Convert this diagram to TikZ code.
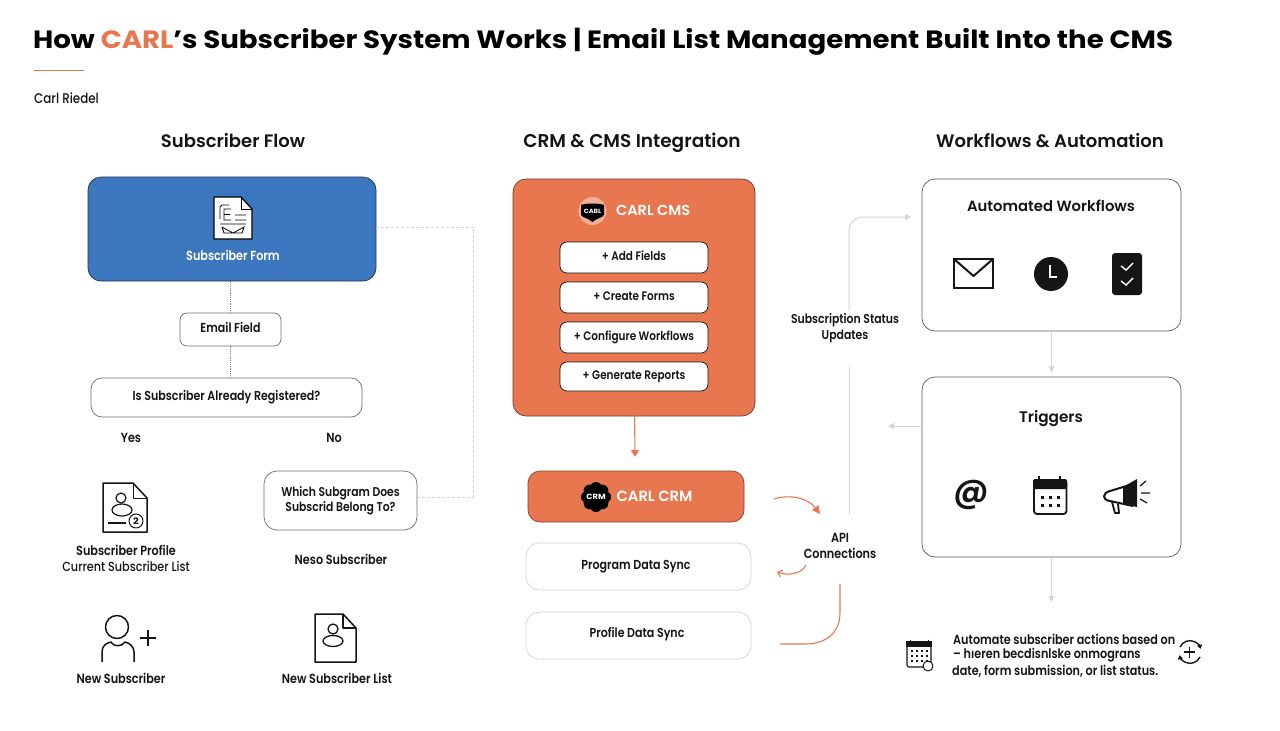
\documentclass[tikz,border=0pt]{standalone}
\usepackage{fontspec}
\usetikzlibrary{arrows.meta,shapes.geometric,calc}
\setmainfont{Poppins}[FakeStretch=.86]
\newfontfamily\medf{Poppins Medium}[FakeStretch=.85]
\newfontfamily\labf{Poppins SemiBold}[FakeStretch=.85]
\newfontfamily\semif{Poppins SemiBold}[FakeStretch=1.0]
\newfontfamily\boldf{Poppins}[UprightFont=*-Bold,FakeStretch=1.105]
\definecolor{cblue}{HTML}{3B76BF}
\definecolor{corange}{HTML}{E8774F}
\definecolor{cink}{HTML}{151515}
\definecolor{cgrayline}{HTML}{D4D4D4}
\definecolor{cdot}{HTML}{8A8A8A}
\tikzset{
  x=1pt,y=-1pt,
  txt/.style={text=cink,inner sep=0pt,align=center,font=\labf\fontsize{13.2}{16}\selectfont},
  head/.style={text=cink,inner sep=0pt,anchor=base,font=\semif\fontsize{18}{22}\selectfont},
  box/.style={draw=#1,rounded corners=9pt,line width=.7pt,inner sep=0pt},
  pill/.style={draw=#1,fill=white,rounded corners=7pt,line width=.7pt,inner sep=0pt,text=cink,text height=9pt,text depth=3pt,font=\labf\fontsize{13}{14}\selectfont},
  cmspill/.style={pill=cink,font=\labf\fontsize{12.3}{14}\selectfont},
  grayarrow/.style={draw=cgrayline,line width=1pt,-{Triangle[length=6pt,width=6pt,fill=cgrayline]}},
  orangearrow/.style={draw=corange,line width=1.1pt},
  icon/.style={draw=cink,line width=1.5pt,line join=round},
  sized/.style 2 args={minimum width=#1,minimum height=#2},
}
\begin{document}
\begin{tikzpicture}
\useasboundingbox (0,0) rectangle (1280,731);
\fill[white] (0,0) rectangle (1280,731);
% title
\node[anchor=base west,inner sep=0pt,text=black,font=\boldf\fontsize{25}{30}\selectfont] (title) at (33,48) {How \textcolor{corange}{CARL}’s Subscriber System Works | Email List Management Built Into the CMS};
\coordinate (ruleA) at (34,70); \coordinate (ruleB) at (84,70);
\draw[corange,line width=1pt] (ruleA) -- (ruleB);
\node[txt,anchor=west,font=\medf\fontsize{14}{16}\selectfont] (author) at (34,98) {Carl Riedel};
% column heads
\node[head] (h1) at (233,147.5) {Subscriber Flow};
\node[head,font=\semif\fontsize{18.5}{22}\selectfont] (h2) at (632,147.5) {CRM \& CMS Integration};
\node[head] (h3) at (1050,147.5) {Workflows \& Automation};
% left column
\node[box=cink!70!cblue,fill=cblue,sized={288}{104},rounded corners=13pt] (form) at (232,229) {};
\node[txt,text=white] (formt) at (233,255) {Subscriber Form};
\node[pill=cdot!80!black,sized={101}{33}] (email) at (230.5,329.5) {Email Field};
\node[pill=cdot!80!black,sized={271}{39},rounded corners=11pt] (reg) at (226.5,397.5) {Is Subscriber Already Registered?};
\node[txt] (yes) at (131,438) {Yes};
\node[txt] (no) at (334,438) {No};
\node[pill=cdot!80!black,sized={153}{59},rounded corners=13pt,align=center,text height=,text depth=,font=\labf\fontsize{12.7}{15}\selectfont] (which) at (340.5,500.5) {Which Subgram Does\\Subscrid Belong To?};
\node[txt] (neso) at (341,559) {Neso Subscriber};
\node[txt] (prof) at (126,558) {Subscriber Profile\\{\medf Current Subscriber List}};
\node[txt] (newsub) at (121,678) {New Subscriber};
\node[txt] (newlist) at (337,678) {New Subscriber List};
\draw[cdot,line width=1.2pt,densely dotted] (form.south -| email) -- (email);
\draw[cdot,line width=1.2pt,densely dotted] (email) -- (reg.north -| email);
\coordinate (dashA) at (473,227); \coordinate (dashB) at (473,497);
\draw[cgrayline,line width=1pt,densely dashed] ([yshift=2pt]form.east) -- (dashA) -- (dashB) -- ([yshift=3.5pt]which.east);
% form icon
\begin{scope}[shift={(214,197)}]
  \draw[draw=black,fill=white,line width=1.2pt,line join=round] (0,0) -- (27,0) -- (38,12) -- (38,42) -- (0,42) -- cycle;
  \draw[black,line width=.8pt] (27,0) -- (27,12) -- (38,12);
  \draw[black,line width=.8pt] (15,8) -- (8,8) -- (6,10) -- (6,22) (17,12) -- (10,12) -- (10,23) -- (17,23) (10,17.5) -- (16,17.5) (21,18) -- (32,18) (21,23) -- (32,23) (6,27) -- (32,27);
  \draw[black,line width=.8pt] (8,30) -- (10,36) -- (28,36) -- (30,30) -- (19,36) -- (8,30);
\end{scope}
% profile icon
\begin{scope}[shift={(103,483)}]
  \draw[icon,fill=white] (0,0) -- (30,0) -- (44,15) -- (44,49) -- (0,49) -- cycle;
  \draw[icon,line width=1pt] (30,0) -- (30,15) -- (44,15);
  \draw[icon,line width=1.2pt] (18,15) circle (5);
  \draw[icon,line width=1.2pt] (19,27) ellipse (10 and 6);
  \draw[icon,line width=1.2pt] (5,40) -- (23,40);
  \draw[icon,line width=1pt,fill=white] (33,38) circle (7);
\end{scope}
\node[inner sep=0pt,text=cink,font=\boldf\fontsize{9}{9}\selectfont] (two) at (136,521) {2};
% new subscriber icon
\draw[icon] (117,627) circle (11.5);
\draw[icon] (102,662) -- (102,652) .. controls (102,646) and (106,643) .. (111,642) .. controls (113,647) and (122,647) .. (125,642) .. controls (130,643) and (134,647) .. (134,652) -- (134,662);
\draw[icon,line width=1.2pt] (140,638) -- (156,638) (148,630) -- (148,646);
% new list icon
\begin{scope}[shift={(315,614)}]
  \draw[icon] (0,0) -- (28,0) -- (41,14) -- (41,48) -- (0,48) -- cycle;
  \draw[icon,line width=1.1pt] (28,0) -- (28,14) -- (41,14);
  \draw[icon,line width=1.3pt] (18,15) circle (5);
  \draw[icon,line width=1.3pt] (18,27) ellipse (10 and 5.5);
\end{scope}
% middle column
\node[box=cink!60!corange,fill=corange,sized={242}{237},rounded corners=13pt] (cms) at (634,297.5) {};
\node[inner sep=0pt,text=white,anchor=west,font=\semif\fontsize{14.5}{16}\selectfont] (cmst) at (616,210) {CARL CMS};
\fill[corange!60!white] (592.5,211) circle (14);
\fill[black] (581,205) .. controls (586,203) and (599,203) .. (604,205) -- (604,215) .. controls (602,218) and (597,218) .. (592.5,222) .. controls (588,218) and (583,218) .. (581,215) -- cycle;
\node[inner sep=0pt,text=white,font=\boldf\fontsize{6}{6}\selectfont] (cmslogo) at (592.5,211) {CABL};
\node[cmspill,sized={148}{31}] (p1) at (634,257.5) {+ Add Fields};
\node[cmspill,sized={148}{31}] (p2) at (634,297.5) {+ Create Forms};
\node[cmspill,sized={148}{31}] (p3) at (634,337.5) {+ Configure Workflows};
\node[cmspill,sized={148}{29}] (p4) at (634,376.5) {+ Generate Reports};
\node[box=cink!50!corange,fill=corange,sized={216}{51},rounded corners=12pt] (crm) at (636,496.5) {};
\node[inner sep=0pt,text=white,font=\semif\fontsize{14.8}{16}\selectfont] (crmt) at (654.5,496) {CARL CRM};
\foreach \a in {0,45,...,315}{\fill[black] ($(596,497)+(\a:9)$) circle (6);}
\fill[black] (596,497) circle (10);
\node[inner sep=0pt,text=white,font=\boldf\fontsize{7.5}{8}\selectfont] (crmlogo) at (596,497) {CRM};
\node[pill=cgrayline,sized={225}{47},rounded corners=13pt] (prog) at (638.5,566.5) {\hspace*{-5pt}Program Data Sync};
\node[pill=cgrayline,sized={225}{47},rounded corners=13pt] (pdata) at (638.5,635.5) {\hspace*{-3pt}\raisebox{1.5pt}{Profile Data Sync}};
\coordinate (cmsout) at (634.5,405);
\coordinate (crmin) at (635,457);
\draw[corange,line width=1.1pt,-{Triangle[length=7pt,width=8pt]}] (cmsout) -- (crmin);
\node[txt] (api) at (840,546) {API\\Connections};
\coordinate (a1) at (774,499); \coordinate (a2) at (820,514);
\coordinate (a3) at (806,565); \coordinate (a4) at (777,572);
\coordinate (a5) at (840,584); \coordinate (a6) at (780,644);
\draw[orangearrow,-{Triangle[length=8pt,width=8pt]}] (a1) .. controls (790,494) and (808,498) .. (a2);
\draw[orangearrow,-{Straight Barb[length=4pt,width=7pt]}] (a3) .. controls (802,574) and (788,576) .. (a4);
\draw[orangearrow] (a5) -- (840,612) .. controls (840,634) and (825,644) .. (805,644) -- (a6);
% right column
\node[box=cink!70,fill=white,sized={259}{152},rounded corners=13pt] (auto) at (1051.5,255) {};
\node[txt,font=\semif\fontsize{14.8}{18}\selectfont] (autot) at (1051,206) {Automated Workflows};
\node[box=cink!70,fill=white,sized={259}{180},rounded corners=13pt] (trig) at (1051.5,467) {};
\node[txt,font=\semif\fontsize{15.3}{18}\selectfont] (trigt) at (1051,419) {Triggers};
\node[inner sep=0pt,text=cink,font=\semif\fontsize{34}{36}\selectfont] (at) at (971,495) {@};
\node[txt,font=\labf\fontsize{12.8}{16}\selectfont] (status) at (845,328) {Subscription Status\\Updates};
\coordinate (s1) at (849,310); \coordinate (s2) at (849,217); \coordinate (s3) at (911,217);
\coordinate (s4) at (849,367); \coordinate (s5) at (849,514);
\draw[grayarrow,rounded corners=14pt] (s1) -- (s2) -- (s3);
\draw[cgrayline,line width=1pt] (s4) -- (s5);
\draw[grayarrow] (auto.south) -- ([yshift=-41pt]auto.south);
\coordinate (t1) at (888,426);
\draw[grayarrow] (trig.west |- t1) -- (t1);
\coordinate (t2) at (1051.5,602);
\draw[grayarrow] ([yshift=-1pt]trig.south) -- (t2);
% workflow icons
\draw[icon,line width=2pt,line join=miter] (954,259) rectangle (993,288);
\draw[icon,line width=2pt] (954,259) -- (973.5,276) -- (993,259);
\fill[cink] (1051,274) circle (17);
\draw[white,line width=2pt] (1050,265) -- (1050,277) -- (1057,277);
\fill[cink,rounded corners=3pt] (1112,253) rectangle (1142,295);
\draw[white,line width=1.4pt] (1121,266) -- (1126,270) -- (1133,263) (1121,281) -- (1126,285) -- (1133,278);
% calendar
\draw[icon,line width=1.8pt,rounded corners=3pt] (1034,480) rectangle (1066.5,514);
\fill[cink,rounded corners=2pt] (1033,479) rectangle (1067,489);
\draw[cink,line width=2pt] (1039,476) -- (1039,481) (1060,476) -- (1060,481);
\foreach \x in {1042,1050,1058}\foreach \y in {497,505}{\fill[cink] (\x-1.5,\y-1.5) rectangle (\x+1.5,\y+1.5);}
% megaphone
\draw[icon,line width=2pt] (1133,484) -- (1110,491) .. controls (1102,493) and (1102,500) .. (1110,501) -- (1133,506);
\fill[cink] (1123,487) -- (1137,479) -- (1137,507) -- (1123,504) -- cycle;
\draw[icon,line width=1.8pt] (1112,502) -- (1115,513) -- (1119,513) -- (1118,504);
\draw[cink,line width=1.2pt] (1140,486) -- (1146,481) (1141,493) -- (1150,493) (1140,499) -- (1147,503);
% bottom note
\node[txt,anchor=west] (n1) at (953,639) {Automate subscriber actions based on};
\node[txt,anchor=west] (n2) at (953,655) {– hıeren becdisnlske onmograns};
\node[txt,anchor=west] (n3) at (952,671) {date, form submission, or list status.};
\draw[icon,line width=1.1pt,rounded corners=2pt] (907,643) rectangle (931,667);
\fill[cink] (906,641) rectangle (932,647);
\draw[cink,line width=1pt] (910,639.5) -- (910,643) (928,639.5) -- (928,643);
\foreach \x in {912,917,922,927}\foreach \y in {651,656,661}{\fill[cink] (\x-1,\y-1) rectangle (\x+1,\y+1);}
\draw[icon,line width=1pt,fill=white] (928,666) circle (5);
\coordinate (syncA) at (1180,647); \coordinate (syncB) at (1200,657);
\draw[icon,line width=1.4pt,-{Triangle[length=4pt,width=5pt]}] (syncA) arc[start angle=155,end angle=15,radius=11pt];
\draw[icon,line width=1.4pt,-{Triangle[length=4pt,width=5pt]}] (syncB) arc[start angle=-25,end angle=-165,radius=11pt];
\draw[icon,line width=1.1pt] (1184,652) -- (1195,652) (1189.5,646.5) -- (1189.5,657.5);
\end{tikzpicture}
\end{document}
